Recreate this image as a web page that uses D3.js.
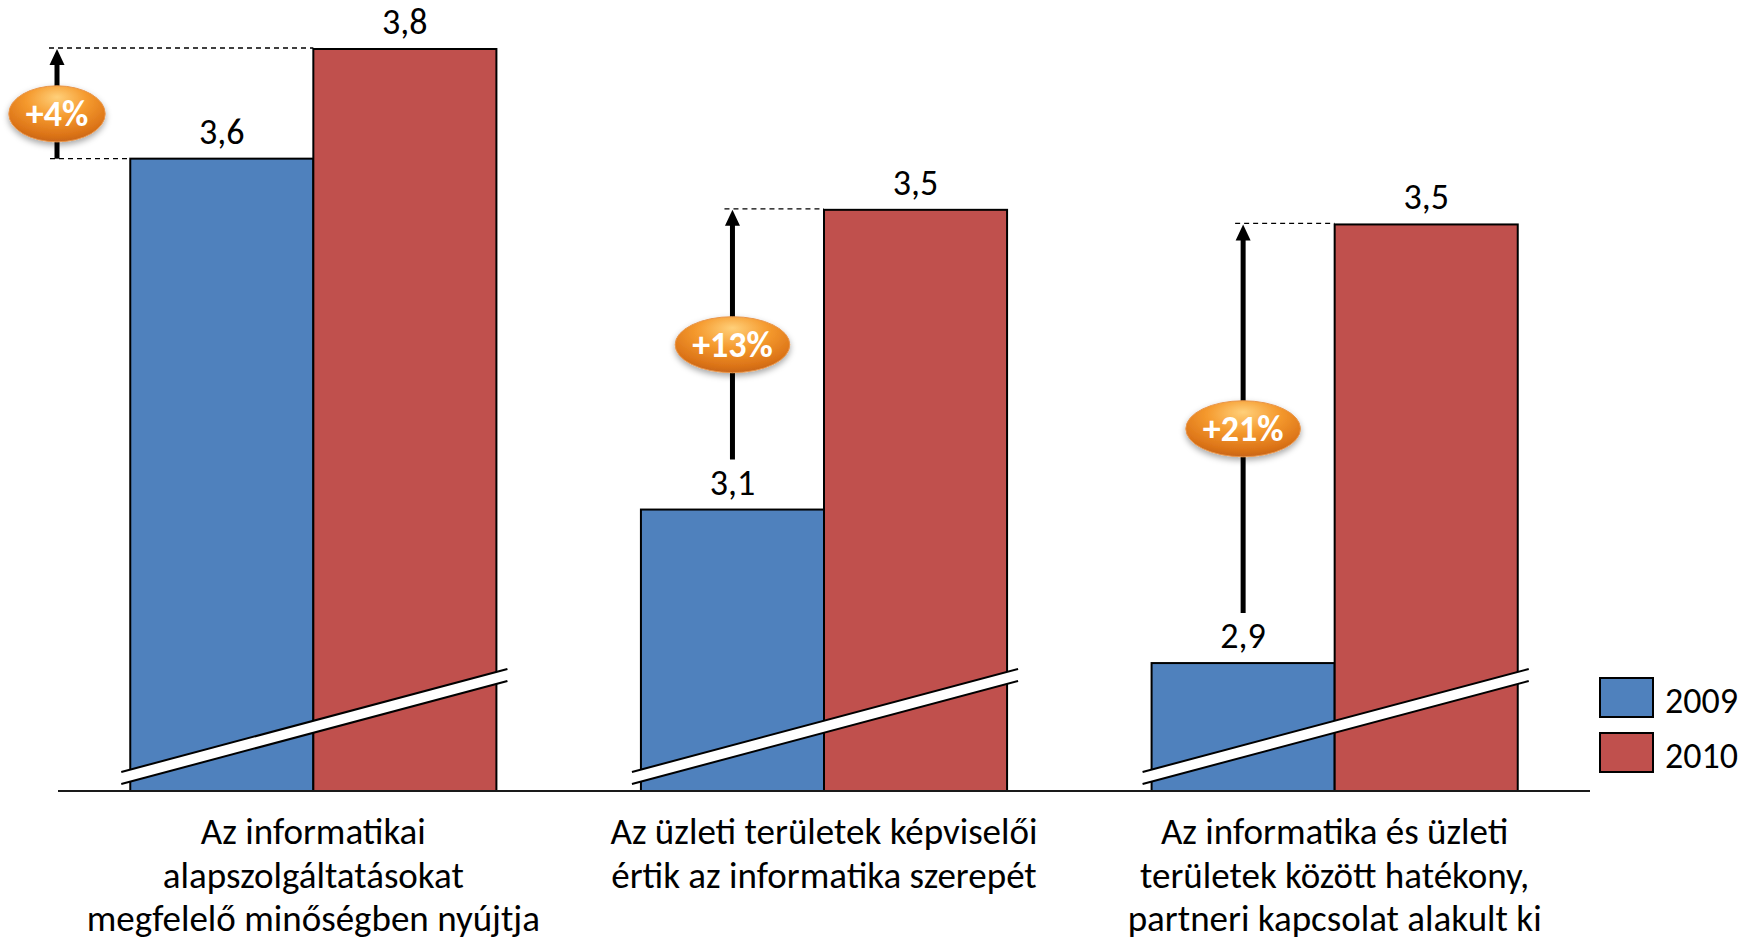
<!DOCTYPE html>
<html>
<head>
<meta charset="utf-8">
<script src="https://cdn.jsdelivr.net/npm/d3@7"></script>
<style>
  html, body { margin: 0; padding: 0; background: #ffffff; }
  svg { display: block; }
  text { font-family: Calibri, Carlito, Lato, "Open Sans", sans-serif; fill: #000; }
</style>
</head>
<body>
<script>
// ---- data ----
const categories = [
  "Az informatikai alapszolgáltatásokat megfelelő minőségben nyújtja",
  "Az üzleti területek képviselői értik az informatika szerepét",
  "Az informatika és üzleti területek között hatékony, partneri kapcsolat alakult ki"
];
const categoryLines = [
  ["Az informatikai", "alapszolgáltatásokat", "megfelelő minőségben nyújtja"],
  ["Az üzleti területek képviselői", "értik az informatika szerepét"],
  ["Az informatika és üzleti", "területek között hatékony,", "partneri kapcsolat alakult ki"]
];
const seriesNames = ["2009", "2010"];
const values2009 = [3.61, 3.13, 2.92];
const values2010 = [3.76, 3.54, 3.52];
const changeLabels = ["+4%", "+13%", "+21%"];
const seriesColors = ["#4F81BD", "#C0504D"];
const yBreakValue = 2.745; // value at the (broken) baseline

// ---- layout ----
const W = 1752, H = 941;
const axisLeft = 58, axisRight = 1590, baseY = 791, topY = 49;

const svg = d3.select("body").append("svg").attr("width", W).attr("height", H);

const defs = svg.append("defs");
const grad = defs.append("radialGradient").attr("id", "orangeGrad")
  .attr("cx", "50%").attr("cy", "30%").attr("r", "70%").attr("fx", "50%").attr("fy", "20%");
grad.append("stop").attr("offset", "0%").attr("stop-color", "#ffd07a");
grad.append("stop").attr("offset", "45%").attr("stop-color", "#f59a2e");
grad.append("stop").attr("offset", "85%").attr("stop-color", "#dc7418");
grad.append("stop").attr("offset", "100%").attr("stop-color", "#c9661a");
const flt = defs.append("filter").attr("id", "shadow").attr("x", "-30%").attr("y", "-30%").attr("width", "160%").attr("height", "170%");
flt.append("feDropShadow").attr("dx", 0).attr("dy", 3).attr("stdDeviation", 3)
  .attr("flood-color", "#000").attr("flood-opacity", 0.35);

const x0 = d3.scaleBand().domain(categories).range([axisLeft, axisRight])
  .paddingInner(0.283).paddingOuter(0.1415);
const x1 = d3.scaleBand().domain(seriesNames).range([0, x0.bandwidth()]);
const y = d3.scaleLinear().domain([yBreakValue, d3.max(values2010)]).range([baseY, topY]);

const rows = categories.map((c, i) => ({
  cat: c, i,
  vals: [values2009[i], values2010[i]]
}));

const fmt = v => d3.format(".1f")(v).replace(".", ",");

// ---- bars ----
const g = svg.selectAll("g.grp").data(rows).join("g").attr("class", "grp")
  .attr("transform", d => `translate(${x0(d.cat)},0)`);

g.selectAll("rect.bar").data(d => d.vals.map((v, k) => ({ v, k })))
  .join("rect").attr("class", "bar")
  .attr("x", d => x1(seriesNames[d.k]))
  .attr("y", d => y(d.v))
  .attr("width", x1.bandwidth())
  .attr("height", d => baseY - y(d.v))
  .attr("fill", d => seriesColors[d.k])
  .attr("stroke", "#000").attr("stroke-width", 2);

// ---- break bands ----
const bw = x0.bandwidth();
g.each(function () {
  const gg = d3.select(this);
  const xl = -9, xr = bw + 11, yl = 778, yr = 675, half = 6;
  gg.append("path")
    .attr("d", `M${xl},${yl - half} L${xr},${yr - half} L${xr},${yr + half} L${xl},${yl + half} Z`)
    .attr("fill", "#fff");
  gg.append("line").attr("x1", xl).attr("y1", yl - half).attr("x2", xr).attr("y2", yr - half)
    .attr("stroke", "#000").attr("stroke-width", 2);
  gg.append("line").attr("x1", xl).attr("y1", yl + half).attr("x2", xr).attr("y2", yr + half)
    .attr("stroke", "#000").attr("stroke-width", 2);
});

// ---- value labels ----
g.selectAll("text.val").data(d => d.vals.map((v, k) => ({ v, k })))
  .join("text").attr("class", "val")
  .attr("x", d => x1(seriesNames[d.k]) + x1.bandwidth() / 2)
  .attr("y", d => y(d.v) - 15)
  .attr("text-anchor", "middle")
  .attr("font-size", 36)
  .text(d => fmt(d.v));

// ---- axis line ----
svg.append("line").attr("x1", axisLeft).attr("x2", axisRight).attr("y1", baseY).attr("y2", baseY)
  .attr("stroke", "#1a1a1a").attr("stroke-width", 2);

// ---- category labels ----
rows.forEach((d, i) => {
  const t = svg.append("text").attr("text-anchor", "middle").attr("font-size", 37);
  categoryLines[i].forEach((line, j) => {
    t.append("tspan").attr("x", x0(d.cat) + bw / 2).attr("y", 844 + j * 43.5).text(line);
  });
});

// ---- change arrows ----
const ann = svg.append("g");
rows.forEach((d, i) => {
  const gx = x0(d.cat);
  const yb = y(d.vals[0]), yt = y(d.vals[1]);
  const blueLeft = gx + x1(seriesNames[0]);
  const redLeft = gx + x1(seriesNames[1]);
  const crowded = (yb - yt) < 160;
  let ax, ybottom;
  if (crowded) {
    ax = axisLeft - 1;
    ybottom = yb;
    ann.append("line").attr("x1", ax - 7).attr("x2", blueLeft).attr("y1", yb).attr("y2", yb)
      .attr("stroke", "#000").attr("stroke-width", 1.3).attr("stroke-dasharray", "5,4");
  } else {
    ax = blueLeft + x1.bandwidth() / 2;
    ybottom = yb - 50;
  }
  ann.append("line").attr("x1", ax - 8).attr("x2", redLeft).attr("y1", yt - 1).attr("y2", yt - 1)
    .attr("stroke", "#000").attr("stroke-width", 1.3).attr("stroke-dasharray", "5,4");
  ann.append("line").attr("x1", ax).attr("x2", ax).attr("y1", ybottom).attr("y2", yt + 14)
    .attr("stroke", "#000").attr("stroke-width", 5);
  ann.append("path")
    .attr("d", `M${ax - 7.5},${yt + 16} L${ax},${yt} L${ax + 7.5},${yt + 16} Z`)
    .attr("fill", "#000");

  const cy = (ybottom + yt) / 2 + 10;
  const eg = ann.append("g").attr("transform", `translate(${ax},${cy})`);
  const ell = eg.append("ellipse").attr("rx", 46).attr("ry", 28)
    .attr("fill", "url(#orangeGrad)").attr("stroke", "#e8954a").attr("stroke-width", 1)
    .attr("filter", "url(#shadow)");
  const tx = eg.append("text").attr("text-anchor", "middle").attr("dy", "0.35em")
    .attr("font-size", 36).attr("font-weight", "bold").style("fill", "#fff")
    .text(changeLabels[i]);
  const w = tx.node().getComputedTextLength();
  ell.attr("rx", Math.max(46, w / 2 + 17));
});

// ---- legend ----
const leg = svg.append("g");
seriesNames.forEach((s, k) => {
  const ly = 678 + k * 55;
  leg.append("rect").attr("x", 1600).attr("y", ly).attr("width", 53).attr("height", 39)
    .attr("fill", seriesColors[k]).attr("stroke", "#000").attr("stroke-width", 2);
  leg.append("text").attr("x", 1665).attr("y", ly + 35).attr("font-size", 36).text(s);
});
</script>
</body>
</html>
